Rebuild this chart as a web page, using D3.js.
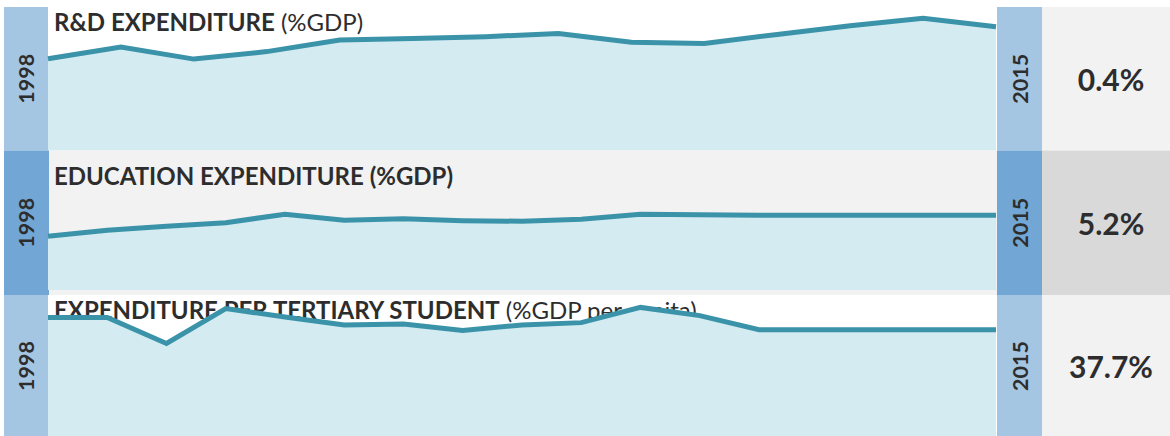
<!DOCTYPE html>
<html><head><meta charset="utf-8">
<script src="https://cdn.jsdelivr.net/npm/d3@7"></script>
<style>
body{margin:0;background:#fff}
svg{display:block}
text{font-family:Lato,"Open Sans",sans-serif;fill:#2d2d2d}
</style>
</head><body>
<svg id="c" width="1170" height="436"></svg>
<script>
// ---- data ----
const startYear = "1998";
const endYear = "2015";
const titleBold = ["R&D EXPENDITURE", "EDUCATION EXPENDITURE (%GDP)", "EXPENDITURE PER TERTIARY STUDENT"];
const titleUnit = [" (%GDP)", "", " (%GDP per capita)"];
const rdValues = [0.294, 0.332, 0.293, 0.317, 0.354, 0.359, 0.365, 0.375, 0.347, 0.343, 0.372, 0.400, 0.424, 0.397];
const eduValues = [3.74, 4.16, 4.43, 4.68, 5.27, 4.85, 4.95, 4.82, 4.78, 4.92, 5.27, 5.23, 5.2, 5.2, 5.2, 5.2, 5.2];
const tertiaryValues = [42.0, 42.0, 32.8, 45.2, 42.2, 39.4, 39.7, 37.4, 39.4, 40.2, 45.6, 42.7, 37.7, 37.7, 37.7, 37.7, 37.7];
const yMax = [0.46, 9.7, 50];

// ---- layout / style ----
const rows = [
  {values: rdValues, top: 7, bottom: 150.5, fillBottom: 150.5, titleY: 31, bar: "#a5c6e3", bg: "#ffffff", valBg: "#f2f2f2"},
  {values: eduValues, top: 150.5, bottom: 295, fillBottom: 290, titleY: 185, bar: "#72a6d4", bg: "#f2f2f2", valBg: "#d9d9d9"},
  {values: tertiaryValues, top: 295, bottom: 440, fillBottom: 436, titleY: 319, bar: "#a5c6e3", bg: "#ffffff", valBg: "#f2f2f2"}
];
const X0 = 48, X1 = 996, leftBarX = 4, yearBarX = 997, valX = 1042;

const svg = d3.select("#c");
const fmt = d3.format(".1f");

rows.forEach((r, i) => {
  const g = svg.append("g");
  const n = r.values.length;
  const x = d3.scaleLinear().domain([0, n - 1]).range([X0, X1]);
  const y = d3.scaleLinear().domain([0, yMax[i]]).range([r.fillBottom, r.top]);
  const h = r.bottom - r.top;
  const cy = r.top + h / 2 - (i === 2 ? 1.5 : 0);

  // backgrounds
  g.append("rect").attr("x", X0).attr("y", r.top).attr("width", yearBarX - X0).attr("height", h).attr("fill", r.bg);
  g.append("rect").attr("x", leftBarX).attr("y", r.top).attr("width", X0 - leftBarX + (i === 1 ? 1 : 0)).attr("height", h).attr("fill", r.bar);
  g.append("rect").attr("x", yearBarX).attr("y", r.top).attr("width", valX - yearBarX).attr("height", h).attr("fill", r.bar);
  g.append("rect").attr("x", valX).attr("y", r.top).attr("width", 1170 - valX).attr("height", h).attr("fill", r.valBg);

  // title (drawn under the area)
  const t = g.append("text").attr("x", 54).attr("y", r.titleY).attr("font-size", 24);
  t.append("tspan").attr("font-weight", 700).text(titleBold[i]);
  if (titleUnit[i]) t.append("tspan").attr("font-weight", 400).text(titleUnit[i]);

  // area + line
  const idx = d3.range(n);
  g.append("path")
    .attr("d", d3.area().x(d => x(d)).y0(r.fillBottom).y1(d => y(r.values[d]))(idx))
    .attr("fill", "#d4ebf1");
  g.append("path")
    .attr("d", d3.line().x(d => x(d)).y(d => y(r.values[d]))(idx))
    .attr("fill", "none").attr("stroke", "#3b93a9").attr("stroke-width", 5).attr("stroke-linejoin", "miter");

  // year labels
  g.append("text").attr("transform", `translate(26,${cy}) rotate(-90)`)
    .attr("text-anchor", "middle").attr("dominant-baseline", "central")
    .attr("font-size", 21.5).attr("font-weight", 700).text(startYear);
  g.append("text").attr("transform", `translate(1020,${cy}) rotate(-90)`)
    .attr("text-anchor", "middle").attr("dominant-baseline", "central")
    .attr("font-size", 21.5).attr("font-weight", 700).text(endYear);

  // value label
  g.append("text").attr("x", 1111).attr("y", cy)
    .attr("text-anchor", "middle").attr("dominant-baseline", "central")
    .attr("font-size", 30).attr("font-weight", 700)
    .text(fmt(r.values[n - 1]) + "%");
});
</script>
</body></html>
